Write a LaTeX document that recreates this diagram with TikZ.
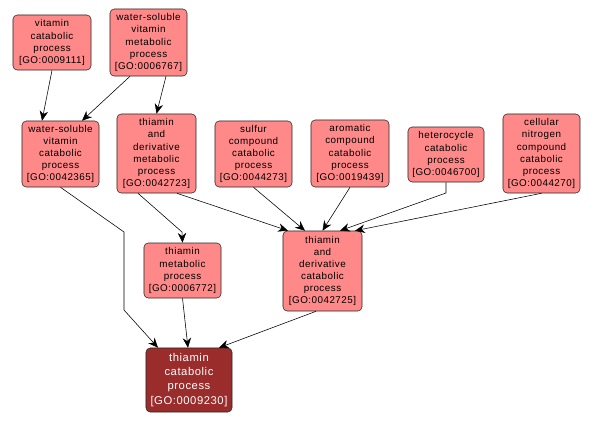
\documentclass[tikz,border=0pt]{standalone}
\usepackage{fontspec}
\setmainfont{Liberation Sans}[LetterSpace=5]
\usepackage{tikz}
\usetikzlibrary{arrows.meta,calc}
\definecolor{termpink}{RGB}{255,137,137}
\definecolor{termdark}{RGB}{155,44,44}

\begin{document}
\begin{tikzpicture}[x=0.025cm,y=-0.025cm,
    term/.style={draw=black!85, fill=termpink, rounded corners=3pt, align=center,
      inner sep=0pt, font=\fontsize{7}{8.6}\selectfont},
    leaf/.style={term, fill=termdark, text=white, font=\fontsize{8}{10}\selectfont},
    isa/.style={-{Stealth[length=7pt,width=6pt]}, black}]
  \useasboundingbox (0,0) rectangle (595,424);
  \node[term, minimum width=1.95cm, minimum height=1.375cm] (vcp) at (52,42.5)
    {vitamin\\catabolic\\process\\{[GO:0009111]}};
  \node[term, minimum width=1.925cm, minimum height=1.675cm] (wsvmp) at (148.5,42.5)
    {water-soluble\\vitamin\\metabolic\\process\\{[GO:0006767]}};
  \node[term, minimum width=1.925cm, minimum height=1.65cm] (wsvcp) at (60.5,154)
    {water-soluble\\vitamin\\catabolic\\process\\{[GO:0042365]}};
  \node[term, minimum width=1.975cm, minimum height=1.975cm] (tdmp) at (156.5,153.5)
    {thiamin\\and\\derivative\\metabolic\\process\\{[GO:0042723]}};
  \node[term, minimum width=1.925cm, minimum height=1.65cm] (sccp) at (253.5,154)
    {sulfur\\compound\\catabolic\\process\\{[GO:0044273]}};
  \node[term, minimum width=1.95cm, minimum height=1.675cm] (accp) at (350,153.5)
    {aromatic\\compound\\catabolic\\process\\{[GO:0019439]}};
  \node[term, minimum width=1.9cm, minimum height=1.375cm] (hcp) at (446,154.5)
    {heterocycle\\catabolic\\process\\{[GO:0046700]}};
  \node[term, minimum width=1.925cm, minimum height=1.975cm] (cnccp) at (541.5,153.5)
    {cellular\\nitrogen\\compound\\catabolic\\process\\{[GO:0044270]}};
  \node[term, minimum width=1.975cm, minimum height=2cm] (tdcp) at (322.5,271)
    {thiamin\\and\\derivative\\catabolic\\process\\{[GO:0042725]}};
  \node[term, minimum width=1.925cm, minimum height=1.375cm] (tmp) at (182.5,270.5)
    {thiamin\\metabolic\\process\\{[GO:0006772]}};
  \node[leaf, minimum width=2.15cm, minimum height=1.6cm] (tcp) at (189,380)
    {thiamin\\catabolic\\process\\{[GO:0009230]}};

  % is_a edges
  \draw[isa] (vcp.south) -- ($(wsvcp.north)+(-18.5,0)$);
  \draw[isa] ($(wsvmp.south)+(-18.5,0)$) -- ($(wsvcp.north)+(21.5,0)$);
  \draw[isa] ($(wsvmp.south)+(17.5,0)$) -- (tdmp.north);
  \draw[isa] (wsvcp.south) -- (124,232) -- (124,310) -- ($(tcp.north)+(-31,0)$);
  \draw[isa] ($(tdmp.south)+(-18.5,0)$) -- (182,232) -- (tmp.north);
  \draw[isa] ($(tdmp.south)+(20.5,0)$) -- ($(tdcp.north)+(-34.5,0)$);
  \draw[isa] (sccp.south) -- ($(tdcp.north)+(-17.5,0)$);
  \draw[isa] (accp.south) -- (tdcp.north);
  \draw[isa] (hcp.south) -- (446,193) -- ($(tdcp.north)+(17.5,0)$);
  \draw[isa] (cnccp.south) -- ($(tdcp.north)+(32.5,0)$);
  \draw[isa] (tmp.south) -- ($(tcp.north)+(-1,0)$);
  \draw[isa] ($(tdcp.south)+(-6.5,0)$) -- ($(tcp.north)+(30,0)$);
\end{tikzpicture}
\end{document}
